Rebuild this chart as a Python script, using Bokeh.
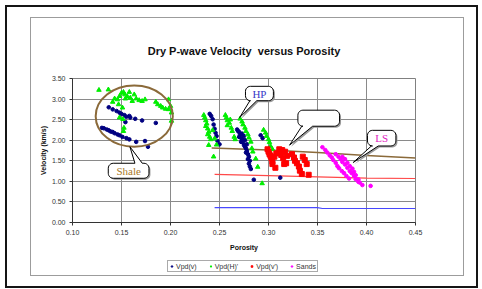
import math
from bokeh.plotting import figure
from bokeh.layouts import column
from bokeh.models import (Range1d, FixedTicker, NumeralTickFormatter, Legend,
                          LegendItem, InlineStyleSheet)
from bokeh.core.properties import value
from bokeh.embed import file_html
from bokeh.resources import INLINE

# ---------------- data ----------------
title_text = "Dry P-wave Velocity\u00a0 versus Porosity"
x_ticks = [0.10, 0.15, 0.20, 0.25, 0.30, 0.35, 0.40, 0.45]
y_ticks = [0.0, 0.5, 1.0, 1.5, 2.0, 2.5, 3.0, 3.5]
series_names = ["Vpd(v)", "Vpd(H)'", "Vpd(v')", "Sands"]

# Vpd(v) - navy circles
vpdv_x = [0.137, 0.141, 0.145, 0.148, 0.150, 0.153, 0.155, 0.158, 0.159, 0.164, 0.171, 0.185, 0.154,
          0.130, 0.132, 0.135, 0.137, 0.139, 0.141, 0.143, 0.146, 0.148, 0.151, 0.155, 0.158, 0.165, 0.174, 0.177,
          0.240, 0.2415, 0.243, 0.244, 0.245, 0.246, 0.247, 0.248, 0.250,
          0.268, 0.269, 0.270, 0.271, 0.270, 0.272, 0.273, 0.272, 0.274, 0.275, 0.276, 0.277, 0.278, 0.277,
          0.279, 0.280, 0.279, 0.281, 0.280, 0.281, 0.282, 0.285, 0.273, 0.275, 0.276, 0.278,
          0.292, 0.294, 0.312]
vpdv_y = [2.80, 2.75, 2.71, 2.67, 2.64, 2.61, 2.57, 2.59, 2.55, 2.52, 2.48, 2.42, 2.44,
          2.30, 2.29, 2.26, 2.24, 2.21, 2.20, 2.17, 2.14, 2.12, 2.08, 2.05, 2.02, 1.96, 1.98, 1.84,
          2.64, 2.59, 2.51, 2.38, 2.28, 2.18, 2.10, 1.98, 1.90,
          2.26, 2.22, 2.20, 2.14, 2.08, 2.06, 2.02, 1.96, 1.94, 1.88, 1.84, 1.80, 1.74, 1.70,
          1.66, 1.60, 1.54, 1.50, 1.43, 1.36, 1.30, 1.04, 2.16, 2.10, 2.00, 1.90,
          2.12, 2.05, 1.09]

# Vpd(H)' - green triangles
vpdh_x = [0.127, 0.1366, 0.141, 0.143, 0.146, 0.148, 0.150, 0.152, 0.1535, 0.154, 0.156, 0.158, 0.159,
          0.161, 0.163, 0.165, 0.168, 0.171, 0.174, 0.185, 0.187, 0.190, 0.192, 0.195, 0.198, 0.198,
          0.200, 0.201, 0.201, 0.151, 0.1515, 0.1525, 0.152, 0.148, 0.147,
          0.234, 0.235, 0.236, 0.237, 0.236, 0.238, 0.239, 0.238, 0.240, 0.241, 0.239, 0.244, 0.247, 0.245, 0.243,
          0.256, 0.257, 0.258, 0.260, 0.258, 0.262, 0.263, 0.265, 0.266, 0.261,
          0.271, 0.273, 0.274, 0.276, 0.277, 0.279, 0.280, 0.282, 0.283, 0.284, 0.287, 0.289, 0.2935,
          0.295, 0.297, 0.298, 0.300, 0.301, 0.302, 0.304]
vpdh_y = [3.22, 3.23, 2.93, 3.01, 2.99, 3.07, 3.15, 3.17, 3.11, 3.01, 3.06, 3.17, 3.03,
          2.95, 3.11, 3.01, 2.97, 2.95, 2.99, 2.93, 2.87, 2.83, 2.79, 2.76, 2.75, 2.99,
          2.83, 2.67, 2.47, 2.79, 2.51, 2.30, 2.22, 2.55, 2.87,
          2.61, 2.55, 2.48, 2.40, 2.34, 2.28, 2.20, 2.14, 2.08, 2.02, 1.88, 1.60, 1.89, 2.04, 2.24,
          2.61, 2.55, 2.48, 2.42, 2.36, 2.30, 2.22, 2.08, 2.02, 2.50,
          2.52, 2.45, 2.38, 2.30, 2.22, 2.14, 2.06, 1.96, 1.80, 1.72, 1.55, 1.35, 0.95,
          2.25, 2.18, 2.10, 2.02, 1.95, 1.86, 1.78]

# Vpd(v') - red squares
vpdv2_x = [0.299, 0.300, 0.301, 0.302, 0.303, 0.304, 0.304, 0.307, 0.306, 0.308, 0.311, 0.312, 0.314,
           0.313, 0.315, 0.316, 0.318, 0.317, 0.319, 0.324, 0.326, 0.327, 0.329, 0.331, 0.332, 0.334,
           0.335, 0.337, 0.339, 0.341]
vpdv2_y = [1.78, 1.72, 1.66, 1.62, 1.56, 1.48, 1.42, 1.33, 1.60, 1.68, 1.78, 1.72, 1.76,
           1.64, 1.56, 1.42, 1.44, 1.72, 1.62, 1.66, 1.58, 1.50, 1.44, 1.36, 1.26, 1.18,
           1.60, 1.52, 1.42, 1.16]

# Sands - magenta
sands_x = [0.355, 0.358, 0.360, 0.3625, 0.3646, 0.366, 0.3686, 0.3703, 0.372, 0.3748, 0.3771, 0.3795, 0.3822,
           0.3686, 0.3714, 0.3737, 0.3754, 0.3781, 0.3805, 0.3829, 0.3849, 0.3873, 0.389, 0.3917,
           0.3754, 0.3781, 0.3805, 0.3829, 0.3856, 0.3873, 0.389, 0.3917, 0.3931, 0.3958, 0.4042]
sands_y = [1.83, 1.76, 1.70, 1.63, 1.58, 1.52, 1.45, 1.37, 1.32, 1.25, 1.20, 1.13, 1.07,
           1.66, 1.60, 1.54, 1.47, 1.41, 1.33, 1.25, 1.20, 1.13, 1.05, 0.99,
           1.60, 1.54, 1.45, 1.37, 1.31, 1.23, 1.15, 1.05, 0.97, 0.91, 0.89]

# trend lines
brown_x = [0.242, 0.30, 0.35, 0.40, 0.45]
brown_y = [1.81, 1.76, 1.70, 1.63, 1.57]
redline_x = [0.245, 0.30, 0.35, 0.40, 0.45]
redline_y = [1.17, 1.14, 1.11, 1.08, 1.07]
blueline_x = [0.245, 0.35, 0.355, 0.45]
blueline_y = [0.36, 0.36, 0.34, 0.34]

# shale ellipse
shale_cx, shale_cy, shale_w, shale_h = 0.163, 2.585, 0.0787, 1.49

series = [(vpdv_x, vpdv_y), (vpdh_x, vpdh_y), (vpdv2_x, vpdv2_y), (sands_x, sands_y)]

# ---------------- styles ----------------
styles = [
    dict(marker="circle", size=3.6, fill_color="#000080", line_color="#000080"),
    dict(marker="triangle", size=4.5, fill_color="#00EE00", line_color="#00EE00"),
    dict(marker="square", size=5, fill_color="#FF0000", line_color="#FF0000"),
    dict(marker="circle", size=3.6, fill_color="#FF00FF", line_color="#FF00FF"),
]

# ---------------- main figure ----------------
FW, FH = 343, 144
ML, MR, MT, MB = 72, 67, 78, 36

frames_css = InlineStyleSheet(css="""
:host { position: relative; }
:host::before { content: ''; position: absolute; box-sizing: border-box;
  left: 5px; top: 5px; width: 473px; height: 283px;
  border: 2px solid #151515; pointer-events: none; z-index: 10; }
:host::after { content: ''; position: absolute; box-sizing: border-box;
  left: 30px; top: 17px; width: 434px; height: 259px;
  border: 1.5px solid #9c9c9c; pointer-events: none; z-index: 10; }
""")

p = figure(frame_width=FW, frame_height=FH, x_range=Range1d(0.10, 0.45), y_range=Range1d(0, 3.5),
           output_backend="svg", toolbar_location=None,
           min_border_left=ML, min_border_right=MR, min_border_top=MT, min_border_bottom=MB)
p.background_fill_color = "white"
p.border_fill_color = "white"
p.outline_line_color = "#808080"

p.title.text = title_text
p.title.align = "center"
p.title.text_font = "Liberation Sans"
p.title.text_font_size = "11px"
p.title.text_font_style = "bold"
p.title.text_color = "#111111"
p.title.standoff = 44

for ax, ticks in ((p.xaxis, x_ticks), (p.yaxis, y_ticks)):
    ax.ticker = FixedTicker(ticks=ticks)
    ax.formatter = NumeralTickFormatter(format="0.00")
    ax.major_label_text_font = "Liberation Sans"
    ax.major_label_text_font_size = "7px"
    ax.major_label_text_color = "#333333"
    ax.axis_label_text_font = "Liberation Sans"
    ax.axis_label_text_font_size = "7px"
    ax.axis_label_text_font_style = "bold"
    ax.axis_label_text_color = "#111111"
    ax.major_tick_out = 3
    ax.major_tick_in = 0
    ax.minor_tick_line_color = None
    ax.axis_line_color = "#333333"
    ax.major_tick_line_color = "#333333"
    ax.major_label_standoff = 4
p.xaxis.axis_label = "Porosity"
p.yaxis.axis_label = "Velocity (km/s)"
p.xaxis.axis_label_standoff = 6
p.yaxis.axis_label_standoff = 2

p.xgrid.ticker = FixedTicker(ticks=x_ticks)
p.ygrid.ticker = FixedTicker(ticks=y_ticks)
for g in (p.xgrid, p.ygrid):
    g.grid_line_color = "#8a8a8a"
    g.grid_line_width = 1

p.line(brown_x, brown_y, line_color="#8B6A3A", line_width=1.5)
p.line(redline_x, redline_y, line_color="#FF4848", line_width=1.2)
p.line(blueline_x, blueline_y, line_color="#4848FF", line_width=1.2)

for (xs_, ys_), st in zip(series, styles):
    p.scatter(xs_, ys_, **st)

p.ellipse(x=[shale_cx], y=[shale_cy], width=shale_w, height=shale_h,
          fill_color=None, line_color="#8B6A3A", line_width=2)

# callouts (positions)
KX = FW / 0.35
KY = FH / 3.5
callouts = [
    # x0, x1, y0, y1, tail base a, tail base b, tip x, tip y, side, text, color
    (0.2765, 0.3050, 2.96, 3.31, 0.281, 0.288, 0.2705, 2.55, "bottom", "HP", "#3838C8"),
    (0.3300, 0.3725, 2.34, 2.73, 0.334, 0.345, 0.3215, 1.88, "bottom", "", "black"),
    (0.4010, 0.4300, 1.86, 2.24, 0.405, 0.412, 0.3865, 1.46, "bottom", "LS", "#E020C0"),
    (0.1365, 0.1780, 1.075, 1.44, 0.1637, 0.1712, 0.1586, 1.84, "top", "Shale", "#A87828"),
]


def rounded_poly(x0, x1, y0, y1, ba, bb, tx, ty, side, r=5):
    rx, ry = r / KX, r / KY
    pts = []

    def arc(cx, cy, a0, a1):
        for i in range(7):
            a = math.radians(a0 + (a1 - a0) * i / 6)
            pts.append((cx + rx * math.cos(a), cy + ry * math.sin(a)))
    arc(x0 + rx, y1 - ry, 180, 90)
    if side == "top":
        pts += [(ba, y1), (tx, ty), (bb, y1)]
    arc(x1 - rx, y1 - ry, 90, 0)
    arc(x1 - rx, y0 + ry, 0, -90)
    if side == "bottom":
        pts += [(bb, y0), (tx, ty), (ba, y0)]
    arc(x0 + rx, y0 + ry, -90, -180)
    return [q[0] for q in pts], [q[1] for q in pts]


for (x0, x1, y0, y1, ba, bb, tx, ty, side, txt, col) in callouts:
    xs, ys = rounded_poly(x0, x1, y0, y1, ba, bb, tx, ty, side)
    sx = [v + 1.5 / KX for v in xs]
    sy = [v - 1.5 / KY for v in ys]
    p.patch(sx, sy, fill_color="#9a9a9a", line_color=None)
    p.patch(xs, ys, fill_color="white", line_color="black", line_width=1)
    if txt:
        p.text(x=[(x0 + x1) / 2], y=[(y0 + y1) / 2], text=[txt],
               text_font=value("Liberation Serif"), text_font_size="11px",
               text_color=col, text_align="center", text_baseline="middle")

# ---------------- legend strip (series drawn out of view, legend only) ----------------
LH = 289 - (MT + FH + MB)
lg = figure(width=482, height=LH, x_range=Range1d(2, 3), y_range=Range1d(2, 3),
            x_axis_location=None, y_axis_location=None, output_backend="svg",
            toolbar_location=None, min_border=0)
lg.grid.visible = False
lg.outline_line_color = None
lg.background_fill_color = "white"
lg.border_fill_color = "white"
items = []
for name, (xs_, ys_), st in zip(series_names, series, styles):
    r = lg.scatter(xs_, ys_, **st)
    items.append(LegendItem(label=name, renderers=[r]))
legend = Legend(items=items, orientation="horizontal", location=(95, LH - 14))
legend.label_text_font = "Liberation Sans"
legend.label_text_font_size = "7px"
legend.label_text_color = "#333333"
legend.label_standoff = 2
legend.glyph_width = 5
legend.glyph_height = 4
legend.label_height = 8
legend.spacing = 11
legend.padding = 1
legend.margin = 0
legend.border_line_color = "#555555"
legend.background_fill_alpha = 1
lg.add_layout(legend)

page = column(p, lg, spacing=0, stylesheets=[frames_css])

open("out.html", "w").write(file_html(page, INLINE))
